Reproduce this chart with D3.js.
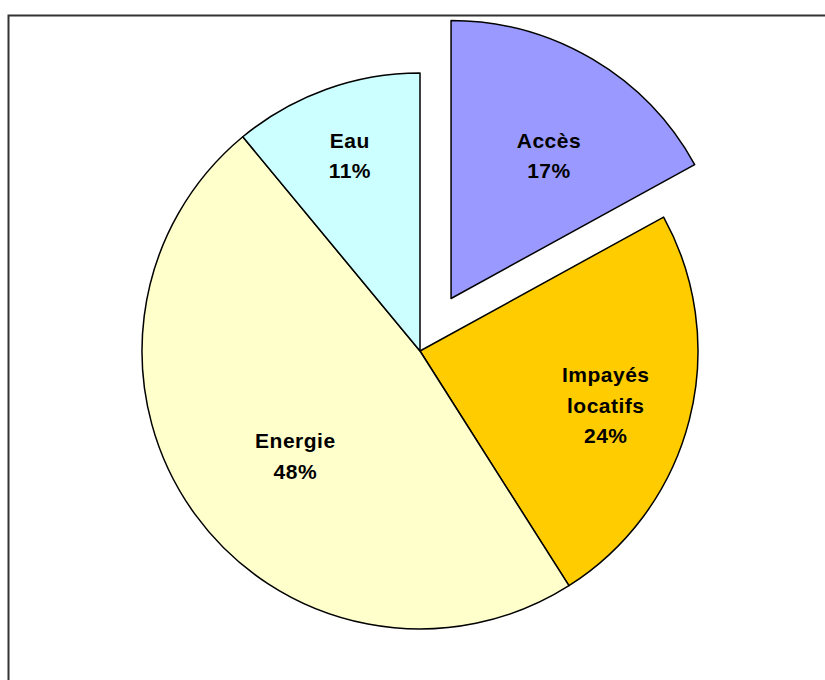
<!DOCTYPE html>
<html>
<head>
<meta charset="utf-8">
<script src="https://cdn.jsdelivr.net/npm/d3@7"></script>
<style>
body { margin: 0; background: #fff; }
svg { display: block; }
</style>
</head>
<body>
<div class="canvas"></div>
<script>
var w = 825;
var h = 680;

// data
var categories = ["Accès", "Impayés locatifs", "Energie", "Eau"];
var values = [17, 24, 48, 11];
var colors = ["#9999FF", "#FFCC00", "#FFFFCC", "#CCFFFF"];
var exploded = [true, false, false, false];

// label distance from centre (part of radius) and small nudge in px
var labelPos = [0.60, 0.69, 0.59, 0.745];
var labelNudge = [[13, 1], [0, 7], [8, 9], [0, 0]];

var cx = 420;
var cy = 351;
var radius = 278;
var explode = 61;

var svg = d3.select(".canvas").append("svg")
    .attr("width", w)
    .attr("height", h);

// frame
svg.append("rect")
    .attr("x", 8.5)
    .attr("y", 15.5)
    .attr("width", w)
    .attr("height", h)
    .attr("fill", "none")
    .attr("stroke", "#333")
    .attr("stroke-width", 2);

var pie = d3.pie().sort(null).value(function (d) { return d; });
var arcs = pie(values);

var arc = d3.arc().innerRadius(0).outerRadius(radius);

var g = svg.append("g")
    .attr("transform", "translate(" + cx + "," + cy + ")");

var slices = g.selectAll("g.slice")
    .data(arcs)
    .enter().append("g")
    .attr("class", "slice")
    .attr("transform", function (d, i) {
        if (!exploded[i]) return null;
        var a = (d.startAngle + d.endAngle) / 2;
        return "translate(" + (explode * Math.sin(a)) + "," + (-explode * Math.cos(a)) + ")";
    });

slices.append("path")
    .attr("d", arc)
    .attr("fill", function (d, i) { return colors[i]; })
    .attr("stroke", "#000")
    .attr("stroke-width", 1.5)
    .attr("stroke-linejoin", "round");

slices.each(function (d, i) {
    var a = (d.startAngle + d.endAngle) / 2;
    var r = radius * labelPos[i];
    var lx = r * Math.sin(a) + labelNudge[i][0];
    var ly = -r * Math.cos(a) + labelNudge[i][1];
    var lines = categories[i] == "Impayés locatifs" ? ["Impayés", "locatifs"] : [categories[i]];
    lines.push(values[i] + "%");
    var lh = 30.5;
    var top = ly - (lines.length - 1) * lh / 2 + 7;
    var t = d3.select(this).append("text")
        .attr("text-anchor", "middle")
        .attr("font-family", "Liberation Sans, Arial, sans-serif")
        .attr("font-weight", "bold")
        .attr("font-size", "21px")
        .attr("letter-spacing", "0.5px")
        .attr("fill", "#000");
    lines.forEach(function (s, k) {
        t.append("tspan")
            .attr("x", lx)
            .attr("y", top + k * lh)
            .text(s);
    });
});
</script>
</body>
</html>
